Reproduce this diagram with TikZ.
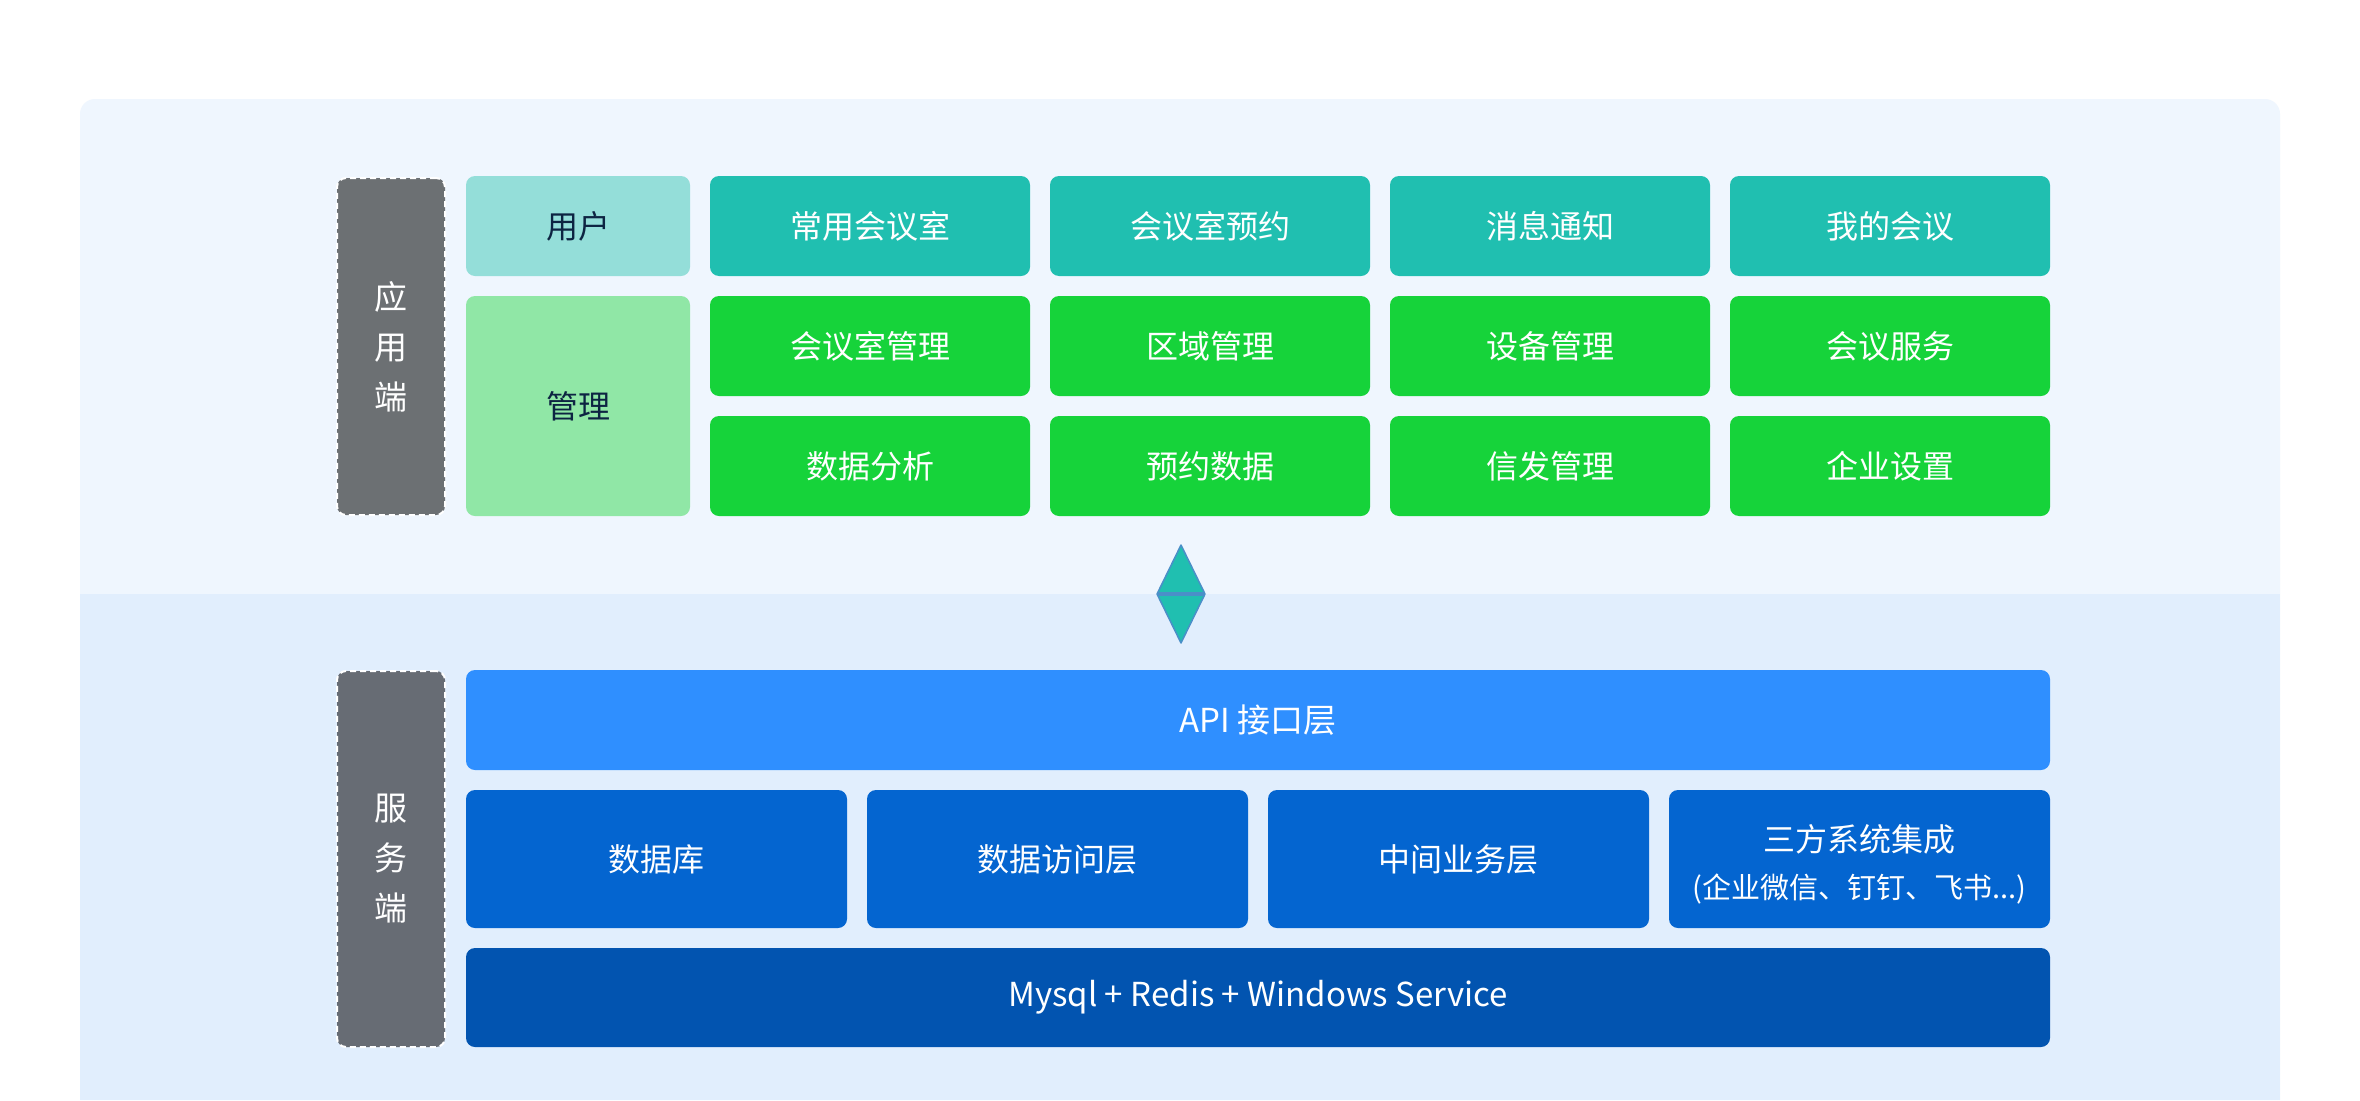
\documentclass[tikz,border=0pt]{standalone}
\usepackage{fontspec}
\setmainfont{Noto Sans CJK SC}
\definecolor{bgtop}{HTML}{EFF6FE}
\definecolor{bgbot}{HTML}{E1EEFD}
\definecolor{sidegray}{HTML}{6C7073}
\definecolor{sidegray2}{HTML}{676C74}
\definecolor{userc}{HTML}{94DED9}
\definecolor{mgrc}{HTML}{90E7A6}
\definecolor{tealc}{HTML}{20BFB0}
\definecolor{greenc}{HTML}{16D33A}
\definecolor{apic}{HTML}{2F8FFF}
\definecolor{midblue}{HTML}{0465D0}
\definecolor{darkblue}{HTML}{0254B0}
\definecolor{navytext}{HTML}{0D2442}
\definecolor{diaedge}{HTML}{4A8FC8}
\tikzset{
  box/.style={rectangle, rounded corners=9pt, inner sep=0pt, align=center,
    font=\fontsize{32}{47}\selectfont, text=white},
  sidebox/.style={rectangle, rounded corners=9pt, inner sep=0pt, align=center,
    draw=white, line width=2pt, dash pattern=on 6pt off 4pt,
    minimum width=108pt, font=\fontsize{33}{50}\selectfont, text=white},
  appcell/.style={box, fill=tealc, minimum width=320pt, minimum height=100pt},
  mgcell/.style={box, fill=greenc, minimum width=320pt, minimum height=100pt},
  svcell/.style={box, fill=midblue, minimum width=381pt, minimum height=138pt},
}
\begin{document}
\begin{tikzpicture}[x=1pt,y=-1pt]
\useasboundingbox (0,0) rectangle (2360,1100);
\fill[white] (0,0) rectangle (2360,1100);
% backgrounds
\fill[bgtop] (80,1100) [rounded corners=15pt] -- (80,99) -- (2280,99) [sharp corners] -- (2280,1100) -- cycle;
\fill[bgbot] (80,594) rectangle (2280,1100);
% application side
\node[sidebox, fill=sidegray, minimum height=337pt] (app) at (391,346.5) {应\\用\\端};
\node[box, fill=userc, text=navytext, minimum width=224pt, minimum height=100pt] (user) at (578,226) {用户};
\node[box, fill=mgrc, text=navytext, minimum width=224pt, minimum height=220pt] (mgr) at (578,406) {管理};
\node[appcell] (u1) at (870,226) {常用会议室};
\node[appcell] (u2) at (1210,226) {会议室预约};
\node[appcell] (u3) at (1550,226) {消息通知};
\node[appcell] (u4) at (1890,226) {我的会议};
\node[mgcell] (m1) at (870,346) {会议室管理};
\node[mgcell] (m2) at (1210,346) {区域管理};
\node[mgcell] (m3) at (1550,346) {设备管理};
\node[mgcell] (m4) at (1890,346) {会议服务};
\node[mgcell] (m5) at (870,466) {数据分析};
\node[mgcell] (m6) at (1210,466) {预约数据};
\node[mgcell] (m7) at (1550,466) {信发管理};
\node[mgcell] (m8) at (1890,466) {企业设置};
% diamond connector
\coordinate (dt) at (1181,545);
\coordinate (dl) at (1157,594);
\coordinate (dr) at (1205,594);
\coordinate (db) at (1181,643);
\filldraw[fill=tealc, draw=diaedge, line width=1.5pt, line join=round] (dt) -- (dr) -- (db) -- (dl) -- cycle;
\draw[diaedge, line width=3.5pt] (dl) -- (dr);
% service side
\node[sidebox, fill=sidegray2, minimum height=376pt] (srv) at (391,859) {服\\务\\端};
\node[box, fill=apic, minimum width=1584pt, minimum height=100pt, font=\fontsize{33}{40}\selectfont] (api) at (1258,720) {API 接口层};
\node[svcell] (s1) at (656.5,859) {数据库};
\node[svcell] (s2) at (1057.5,859) {数据访问层};
\node[svcell] (s3) at (1458.5,859) {中间业务层};
\node[svcell] (s4) at (1859.5,859) {};
\node[box, align=center] (s4text) at ([yshift=-5pt]s4.center) {三方系统集成\\{\fontsize{29}{47}\selectfont (企业微信、钉钉、飞书...)}};
\node[box, fill=darkblue, minimum width=1584pt, minimum height=99pt, font=\fontsize{33}{40}\selectfont] (base) at (1258,997.5) {Mysql + Redis + Windows Service};
\end{tikzpicture}
\end{document}
